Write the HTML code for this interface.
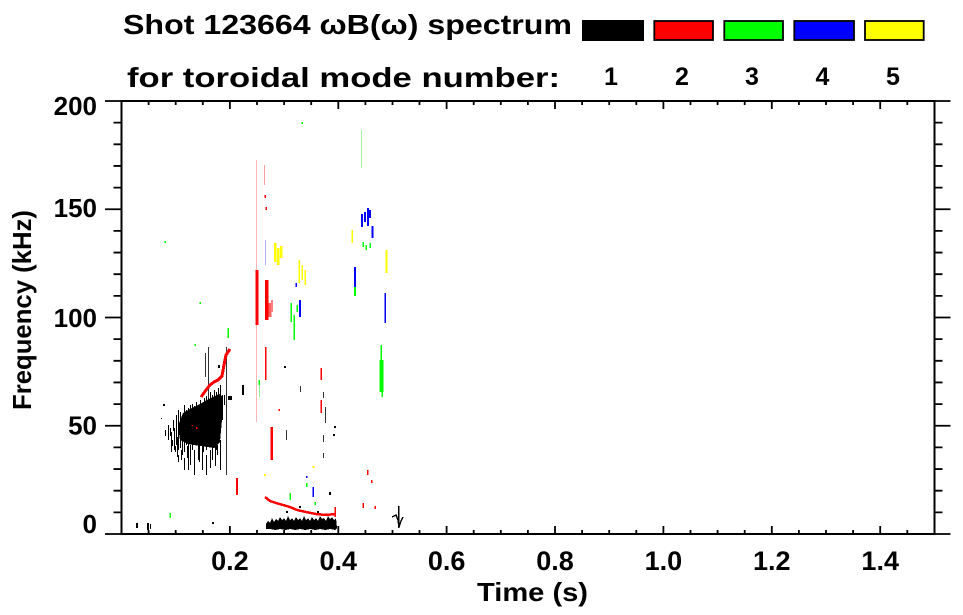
<!DOCTYPE html>
<html>
<head>
<meta charset="utf-8">
<style>
html,body{margin:0;padding:0;background:#fff;}
svg{display:block;}
text{font-family:"Liberation Sans",Arial,Helvetica,sans-serif;font-weight:bold;fill:#000;}
</style>
</head>
<body>
<svg width="963" height="615" viewBox="0 0 963 615" xmlns="http://www.w3.org/2000/svg">
<rect x="0" y="0" width="963" height="615" fill="#fff"/>

<!-- Title -->
<text x="123" y="34" font-size="28" textLength="449" lengthAdjust="spacingAndGlyphs">Shot 123664 ωB(ω) spectrum</text>
<text x="127" y="87" font-size="28" textLength="433" lengthAdjust="spacingAndGlyphs">for toroidal mode number:</text>

<!-- Legend -->
<rect x="582" y="20" width="62" height="21" fill="#000"/>
<rect x="654.3" y="21" width="58.7" height="19" fill="#ff0000" stroke="#000" stroke-width="1.8"/>
<rect x="724.3" y="21" width="58.7" height="19" fill="#00ff00" stroke="#000" stroke-width="1.8"/>
<rect x="794.3" y="21" width="59.7" height="19" fill="#0000ff" stroke="#000" stroke-width="1.8"/>
<rect x="865" y="21" width="58.7" height="19" fill="#ffff00" stroke="#000" stroke-width="1.8"/>
<text x="611" y="85" font-size="25" text-anchor="middle">1</text>
<text x="682" y="85" font-size="25" text-anchor="middle">2</text>
<text x="752" y="85" font-size="25" text-anchor="middle">3</text>
<text x="822.5" y="85" font-size="25" text-anchor="middle">4</text>
<text x="893" y="85" font-size="25" text-anchor="middle">5</text>

<g shape-rendering="crispEdges">
<!-- Data: pale streaks -->
<g stroke-width="1" fill="none">
<path d="M256.5 160V422" stroke="#f8b8b8"/>
<path d="M264.5 165V185" stroke="#f4a0a0"/>
<path d="M361.5 130V168" stroke="#a8f0a8"/>
<path d="M265.5 240V265" stroke="#b0b0f8"/>
<path d="M259.5 380V397" stroke="#90ec90"/>
<path d="M208.5 347V400M205.5 353V377M226.5 347V475" stroke="#333"/>
<path d="M323.5 392V398M325.5 407V423M323.5 435V442M323.5 453V458M286.5 430V440M300.5 386V392" stroke="#333"/>
</g>

<!-- Mode 1 (black) -->
<g fill="#000">
<polygon points="180,440 178,426 183,413 192,408 200,404 207,400 213,397 219,394 223,397 222,420 220,442 214,448 200,446 188,444"/>
<polygon points="266,529 266,524 268,521 270,523 272,518 274,522 276,519 278,521 280,517 282,520 284,518 286,521 288,516 290,520 292,518 294,521 296,517 298,520 300,518 302,521 304,516 306,520 308,518 310,521 312,517 314,520 316,518 318,521 320,516 322,519 324,518 326,521 328,516 330,519 332,517 334,520 336,518 337,528 335,530 330,529 325,530 320,529 315,530 310,529 305,530 300,529 295,530 290,529 285,530 280,529 275,530 270,529"/>
<rect x="136" y="523" width="2" height="5"/>
<rect x="147" y="523" width="2" height="7"/>
<rect x="150" y="524" width="1" height="5"/>
<rect x="212" y="522" width="2" height="2"/>
<rect x="163" y="404" width="2" height="2"/>
<rect x="161" y="418" width="1" height="1"/>
<rect x="228" y="396" width="4" height="4"/>
<rect x="218" y="365" width="2" height="3"/>
<rect x="286" y="511" width="2" height="2"/>
<rect x="299" y="506" width="2" height="2"/>
<rect x="317" y="511" width="2" height="2"/>
<rect x="329" y="492" width="2" height="3"/>
<rect x="334" y="426" width="2" height="2"/>
<rect x="333" y="434" width="2" height="2"/>
<rect x="284" y="366" width="2" height="2"/>
<rect x="242" y="385" width="2" height="10"/>
</g>
<g stroke="#000" stroke-width="1" fill="none">
<path d="M165.5 430V436M168.5 425V440M171.5 432V452M172.5 440V446M174.5 428V450M176.5 415V445M177.5 437V457M178.5 410V450M178.5 455V462M180.5 412V448M182.5 420V455M184.5 405V452M184.5 458V470M186.5 410V445M188.5 408V470M190.5 405V440M190.5 445V465M192.5 404V450M194.5 406V445M194.5 450V475M196.5 402V440M198.5 405V460M200.5 400V445M202.5 404V470M204.5 398V440M206.5 396V450M206.5 455V475M208.5 398V445M210.5 392V440M210.5 450V468M212.5 395V460M214.5 390V436M216.5 392V450M218.5 388V440M220.5 385V430M220.5 440V470M222.5 395V420M224.5 395V405"/>
<path d="M170.5 428V436M173.5 420V431M175.5 446V452M181.5 450V460M187.5 446V458M199.5 446V462M203.5 442V452M215.5 446V466M217.5 445V455"/>
<path d="M392 517L396 515L398 520L399 527L401 521L403 517M398.5 506V528" stroke-width="1.5"/>
</g>

<!-- Mode 2 (red) -->
<g stroke="#ff0000" fill="none">
<polyline points="201,397 206,390 210,385 214,382 218,380 222,376 224,365 226,355 230,349" stroke-width="3"/>
<polyline points="265,497 270,501 276,503 283,505 290,507 297,510 306,512 316,514 326,515 335,514" stroke-width="2.5"/>
<path d="M237 478V495" stroke-width="2"/>
<path d="M257 270V325" stroke-width="3"/>
<path d="M266.5 280V320" stroke-width="3.5"/>
<path d="M270 303V317" stroke-width="3" stroke="#ff6060"/>
<path d="M272 300V312" stroke-width="2" stroke="#ff8080"/>
<path d="M265.5 347V380" stroke-width="1.5"/>
<path d="M271.5 427V460" stroke-width="2.5"/>
<path d="M321 368V380M321 400V413M335 507V517" stroke-width="1.5"/>
<path d="M265 195V198M266 207V210M363 503V508M367.5 470V475M375 506V509M371.5 480V483M279 409V411M192 425V426M196.7 427V429" stroke-width="1.5"/>
</g>

<!-- Mode 3 (green) -->
<g stroke="#00ff00" fill="none">
<path d="M381.5 360V392" stroke-width="4"/>
<path d="M381 345V360M382 392V397" stroke-width="1.5"/>
<path d="M355 287V296" stroke-width="2"/>
<path d="M291 303V322M294 315V340M297 305V312" stroke-width="1.5"/>
<path d="M363 242V247M366 245V250M370 243V248" stroke-width="1.5"/>
<path d="M170 513V518M290 493V500M315 502V505M306.7 483V487M200 302V304M228 328V338M195 344V346M302 122V124M165 241V243M259 380V385" stroke-width="1.5"/>
</g>

<!-- Mode 4 (blue) -->
<g stroke="#0000ff" fill="none">
<path d="M362 214V227M365 212V222M368 208V226M370 210V218" stroke-width="2"/>
<path d="M372.5 226V238" stroke-width="2"/>
<path d="M355 267V287" stroke-width="2"/>
<path d="M385 293V323" stroke-width="1.5"/>
<path d="M300 300V317" stroke-width="2"/>
<path d="M296 283V287M313 487V497M306.7 476V478" stroke-width="1.5"/>
</g>

<!-- Mode 5 (yellow) -->
<g stroke="#ffff00" fill="none">
<path d="M275 243V262M278 248V265M281 246V258" stroke-width="2.5"/>
<path d="M299 260V283M302 265V280M305 270V285" stroke-width="1.5"/>
<path d="M386.5 250V273" stroke-width="2"/>
<path d="M352 230V243" stroke-width="1.5"/>
<path d="M265 474V476M313.3 466V468" stroke-width="2"/>
</g>
</g>

<!-- Axes box -->
<rect x="121.5" y="101" width="813" height="433" fill="none" stroke="#000" stroke-width="2"/>

<!-- Ticks -->
<g stroke="#000" stroke-width="1.8" fill="none">
<path d="M229.9 534V526M338.3 534V526M446.6 534V526M555 534V526M663.4 534V526M771.8 534V526M880.2 534V526"/>
<path d="M148.6 534V530M175.7 534V530M202.8 534V530M257 534V530M284.1 534V530M311.2 534V530M365.4 534V530M392.5 534V530M419.5 534V530M473.7 534V530M500.8 534V530M527.9 534V530M582.1 534V530M609.2 534V530M636.3 534V530M690.5 534V530M717.6 534V530M744.7 534V530M798.9 534V530M826 534V530M853.1 534V530M907.3 534V530"/>
<path d="M229.9 101V109M338.3 101V109M446.6 101V109M555 101V109M663.4 101V109M771.8 101V109M880.2 101V109"/>
<path d="M148.6 101V105M175.7 101V105M202.8 101V105M257 101V105M284.1 101V105M311.2 101V105M365.4 101V105M392.5 101V105M419.5 101V105M473.7 101V105M500.8 101V105M527.9 101V105M582.1 101V105M609.2 101V105M636.3 101V105M690.5 101V105M717.6 101V105M744.7 101V105M798.9 101V105M826 101V105M853.1 101V105M907.3 101V105"/>
<path d="M105 534H121.5M105 425.75H121.5M105 317.5H121.5M105 209.25H121.5M105 101H121.5"/>
<path d="M113.5 512.35H121.5M113.5 490.7H121.5M113.5 469.05H121.5M113.5 447.4H121.5M113.5 404.1H121.5M113.5 382.45H121.5M113.5 360.8H121.5M113.5 339.15H121.5M113.5 295.85H121.5M113.5 274.2H121.5M113.5 252.55H121.5M113.5 230.9H121.5M113.5 187.6H121.5M113.5 165.95H121.5M113.5 144.3H121.5M113.5 122.65H121.5"/>
<path d="M934.5 534H950.5M934.5 425.75H950.5M934.5 317.5H950.5M934.5 209.25H950.5M934.5 101H950.5"/>
<path d="M934.5 512.35H942.5M934.5 490.7H942.5M934.5 469.05H942.5M934.5 447.4H942.5M934.5 404.1H942.5M934.5 382.45H942.5M934.5 360.8H942.5M934.5 339.15H942.5M934.5 295.85H942.5M934.5 274.2H942.5M934.5 252.55H942.5M934.5 230.9H942.5M934.5 187.6H942.5M934.5 165.95H942.5M934.5 144.3H942.5M934.5 122.65H942.5"/>
</g>

<!-- Y tick labels -->
<g font-size="26" text-anchor="end">
<text x="97" y="533">0</text>
<text x="97" y="434.5">50</text>
<text x="97" y="327">100</text>
<text x="97" y="217">150</text>
<text x="97" y="115">200</text>
</g>

<!-- X tick labels -->
<g font-size="27" text-anchor="middle">
<text x="229.9" y="570">0.2</text>
<text x="338.3" y="570">0.4</text>
<text x="446.6" y="570">0.6</text>
<text x="555" y="570">0.8</text>
<text x="663.4" y="570">1.0</text>
<text x="771.8" y="570">1.2</text>
<text x="880.2" y="570">1.4</text>
</g>

<!-- Axis titles -->
<text x="532.5" y="601" font-size="26" text-anchor="middle" textLength="111" lengthAdjust="spacingAndGlyphs">Time (s)</text>
<text x="0" y="0" font-size="26" text-anchor="middle" textLength="200" lengthAdjust="spacingAndGlyphs" transform="translate(31,310) rotate(-90)">Frequency (kHz)</text>
</svg>
</body>
</html>
